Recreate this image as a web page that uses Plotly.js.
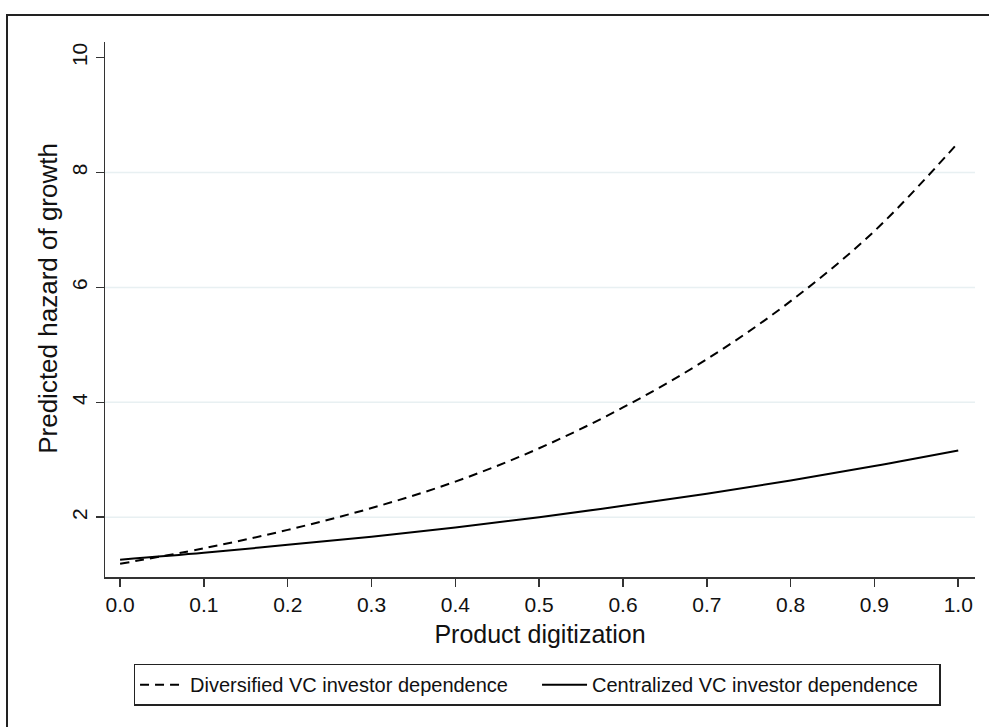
<!DOCTYPE html>
<html>
<head>
<meta charset="utf-8">
<script src="https://cdn.plot.ly/plotly-3.0.1.min.js"></script>
<style>
html,body{margin:0;padding:0;background:#fff;overflow:hidden;}
#chart{width:989px;height:727px;}
#frame{position:absolute;left:6px;top:14px;width:1000px;height:800px;border:2px solid #222;pointer-events:none;box-sizing:border-box;}
</style>
</head>
<body>
<div id="chart"></div>
<div id="frame"></div>
<script>
const digitization = [0.0, 0.1, 0.2, 0.3, 0.4, 0.5, 0.6, 0.7, 0.8, 0.9, 1.0];
const diversified = [1.19, 1.46, 1.78, 2.16, 2.62, 3.20, 3.91, 4.75, 5.76, 6.98, 8.52];
const centralized = [1.26, 1.38, 1.52, 1.66, 1.82, 2.00, 2.20, 2.41, 2.64, 2.89, 3.16];
const xTicks = [0.0, 0.1, 0.2, 0.3, 0.4, 0.5, 0.6, 0.7, 0.8, 0.9, 1.0];
const xTickLabels = ["0.0","0.1","0.2","0.3","0.4","0.5","0.6","0.7","0.8","0.9","1.0"];
const yTicks = [2, 4, 6, 8, 10];
const seriesNames = ["Diversified VC investor dependence", "Centralized VC investor dependence"];
const xTitle = "Product digitization";
const yTitle = "Predicted hazard of growth";

const font = "Liberation Sans, Arial, sans-serif";

const traces = [
  {x: digitization, y: diversified, name: seriesNames[0], mode: 'lines', type: 'scatter',
   line: {color: '#000', width: 2, dash: '9px,6px', shape: 'spline'}},
  {x: digitization, y: centralized, name: seriesNames[1], mode: 'lines', type: 'scatter',
   line: {color: '#000', width: 2, shape: 'spline'}}
];

const gridShapes = [2,4,6,8].map(v => ({
  type: 'line', xref: 'paper', yref: 'y', x0: 0, x1: 1, y0: v, y1: v,
  line: {color: '#e8f0f2', width: 1.5}, layer: 'below'
}));

const layout = {
  width: 989, height: 727,
  margin: {l: 105, r: 14, t: 42, b: 150},
  paper_bgcolor: '#fff', plot_bgcolor: '#fff',
  font: {family: font, color: '#111', size: 21},
  showlegend: true,
  legend: {
    orientation: 'h', x: 0.4966, xanchor: 'center', y: -0.162, yanchor: 'top',
    bordercolor: '#222', borderwidth: 1.5, font: {family: font, size: 20, color: '#111'},
    entrywidth: 342, itemwidth: 45, traceorder: 'normal'
  },
  xaxis: {
    range: [-0.018, 1.02], tickvals: xTicks, ticktext: xTickLabels,
    showgrid: false, zeroline: false, showline: true, linecolor: '#333', linewidth: 1.5,
    ticks: 'outside', ticklen: 8, tickwidth: 1.5, tickcolor: '#333',
    tickfont: {family: font, size: 21, color: '#111'},
    title: {text: xTitle, font: {family: font, size: 25, color: '#111'}, standoff: 11},
    automargin: false, fixedrange: true
  },
  yaxis: {
    range: [0.96, 10.27], tickvals: yTicks, tickangle: -90,
    showgrid: false, zeroline: false, showline: true, linecolor: '#333', linewidth: 1.5,
    ticks: 'outside', ticklen: 8, tickwidth: 1.5, tickcolor: '#333',
    tickfont: {family: font, size: 21, color: '#111'},
    automargin: false, fixedrange: true
  },
  annotations: [{
    text: yTitle, xref: 'paper', yref: 'paper', x: -0.0655, y: 0.52,
    xanchor: 'center', yanchor: 'middle', textangle: -90, showarrow: false,
    font: {family: font, size: 26, color: '#111'}
  }],
  shapes: gridShapes
};

Plotly.newPlot('chart', traces, layout, {staticPlot: true, displayModeBar: false});
</script>
</body>
</html>
